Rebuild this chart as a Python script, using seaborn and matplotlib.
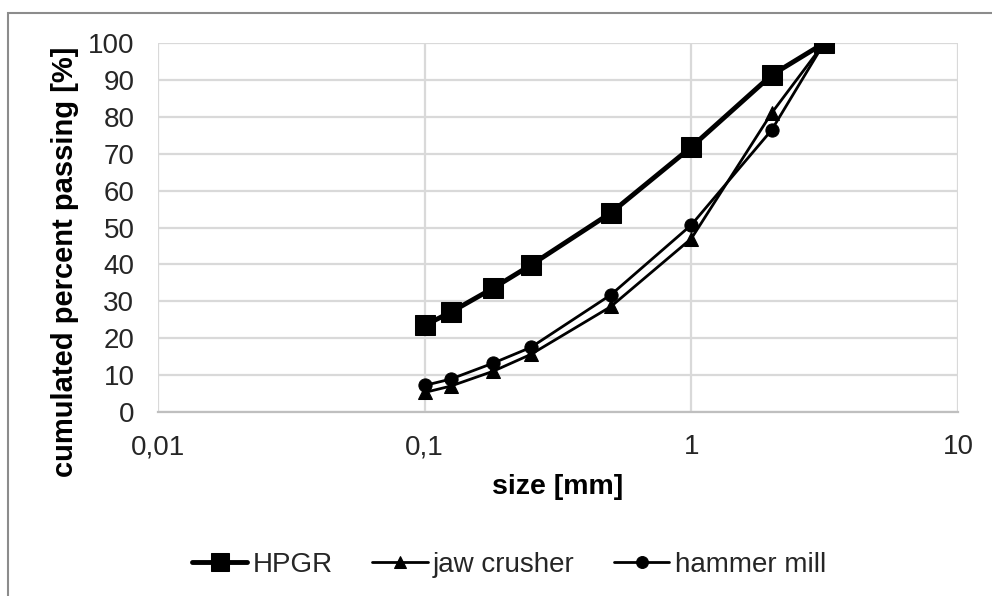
import matplotlib
matplotlib.use("Agg")
import matplotlib.pyplot as plt
import matplotlib.ticker as mticker
from matplotlib.patches import Rectangle
import seaborn as sns
import pandas as pd

sizes = [0.1, 0.125, 0.18, 0.25, 0.5, 1.0, 2.0, 3.15]
hpgr = [23.5, 27.0, 33.5, 39.8, 54.0, 71.8, 91.3, 100.0]
jaw = [5.3, 7.0, 11.0, 15.6, 28.6, 47.0, 81.0, 100.0]
hammer = [7.2, 8.9, 13.2, 17.5, 31.8, 50.7, 76.4, 100.0]
series_names = ["HPGR", "jaw crusher", "hammer mill"]
x_ticks = [0.01, 0.1, 1, 10]
x_tick_labels = ["0,01", "0,1", "1", "10"]
y_ticks = list(range(0, 101, 10))

sns.set_theme(style="white")
plt.rcParams["font.family"] = ["Liberation Sans", "DejaVu Sans"]

df = pd.DataFrame({
    "size": sizes * 3,
    "value": hpgr + jaw + hammer,
    "series": [series_names[0]] * len(sizes) + [series_names[1]] * len(sizes) + [series_names[2]] * len(sizes),
})

fig = plt.figure(figsize=(9.92, 5.96), dpi=100)
ax = fig.add_axes([158 / 992, 1 - 412 / 596, 800 / 992, 369 / 596])

styles = {
    "HPGR": dict(marker="s", markersize=14, linewidth=3.5),
    "jaw crusher": dict(marker="^", markersize=9.5, linewidth=2.0),
    "hammer mill": dict(marker="o", markersize=9.5, linewidth=2.0),
}
for name in series_names:
    sub = df[df["series"] == name]
    sns.lineplot(data=sub, x="size", y="value", ax=ax, color="black",
                 label=name, markeredgecolor="black", markerfacecolor="black",
                 **styles[name])

ax.set_xscale("log")
ax.set_xlim(0.01, 10)
ax.set_ylim(0, 100)
ax.xaxis.set_major_locator(mticker.FixedLocator(x_ticks))
ax.xaxis.set_major_formatter(mticker.FixedFormatter(x_tick_labels))
ax.xaxis.set_minor_locator(mticker.NullLocator())
ax.set_yticks(y_ticks)
ax.grid(True, which="major", color="#d9d9d9", linewidth=1.6)
ax.set_axisbelow(True)
for s in ["top", "right", "left"]:
    ax.spines[s].set_visible(False)
ax.spines["bottom"].set_color("#bfbfbf")
ax.spines["bottom"].set_linewidth(1.6)
ax.tick_params(axis="both", labelsize=20, length=0, colors="#262626")
ax.tick_params(axis="x", pad=16)
ax.tick_params(axis="y", pad=17)

ax.set_xlabel("size [mm]", fontsize=20.5, fontweight="bold", color="black", labelpad=10)
ax.set_ylabel("")
fig.text(65 / 992, 1 - 262 / 596, "cumulated percent passing [%]", rotation=90,
         ha="center", va="center", fontsize=21, fontweight="bold", color="black")

leg = ax.legend(loc="center", bbox_to_anchor=(509 / 992, 1 - 565 / 596),
                bbox_transform=fig.transFigure, ncol=3, frameon=False,
                fontsize=20, handlelength=2.0, columnspacing=1.4, handletextpad=0.2,
                markerscale=0.9)
for t in leg.get_texts():
    t.set_color("#262626")

fig.patches.append(Rectangle((8 / 992, -0.01), 1.0, 1 - 13 / 596 + 0.01,
                             transform=fig.transFigure, fill=False,
                             edgecolor="#8c8c8c", linewidth=1.5))

fig.savefig("out.png", dpi=100)
